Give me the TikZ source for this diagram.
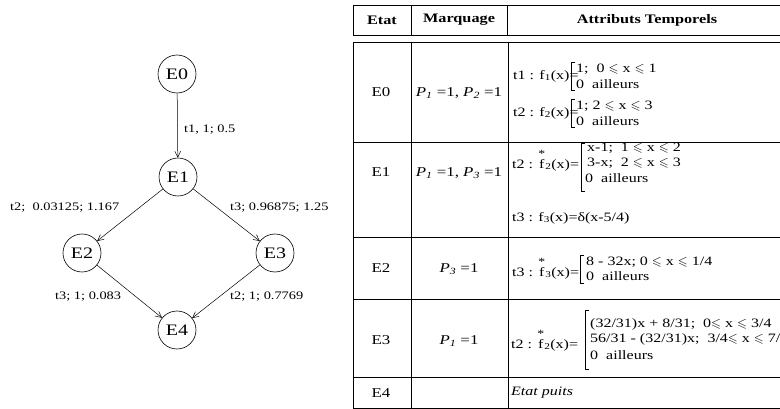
\documentclass[tikz,border=0pt]{standalone}
\usepackage{amssymb}
\usepackage{amsmath}
\usepackage{fontspec}
\setmainfont[FakeStretch=1.25]{Liberation Serif}
\usetikzlibrary{arrows.meta}
\newcommand\lsl{\ensuremath{\leqslant}}
\newcommand\fsb[1]{f\textsubscript{#1}}
\newcommand\fst[1]{\ensuremath{\overset{\raisebox{-0.9ex}{\text{\fontsize{11}{11}\selectfont *}}}{\text{f}}}\textsubscript{#1}}
\newcommand\Pp[1]{\textit{P}\textsubscript{\textit{#1}}}
\begin{document}
\begin{tikzpicture}[x=1pt,y=-1pt,
  gnode/.style={circle,draw,line width=0.6pt,minimum size=38pt,inner sep=0pt,font=\fontsize{16}{18}\selectfont},
  glabel/.style={inner sep=0pt,anchor=west,font=\fontsize{11.5}{13}\selectfont},
  garrow/.style={line width=0.5pt,-{Straight Barb[length=6pt,width=6pt]}},
  thead/.style={inner sep=0pt,font=\bfseries\fontsize{13}{15}\selectfont},
  tcell/.style={inner sep=0pt,font=\fontsize{13.5}{15}\selectfont},
  tform/.style={inner sep=0pt,anchor=west,font=\fontsize{12.8}{15}\selectfont},
  tline/.style={line width=0.7pt},
  brk/.style={line width=0.6pt}]
\useasboundingbox (0,0) rectangle (780,409);
\clip (0,0) rectangle (780,409);
% ---------- graph ----------
\node[gnode] (E0) at (177,74) {E0};
\node[gnode] (E1) at (178,177) {E1};
\node[gnode] (E2) at (82,253) {E2};
\node[gnode] (E3) at (275,253) {E3};
\node[gnode] (E4) at (177,330) {E4};
\draw[garrow] (E0) -- (E1);
\draw[garrow] (E1) -- (E2);
\draw[garrow] (E1) -- (E3);
\draw[garrow] (E2) -- (E4);
\draw[garrow] (E3) -- (E4);
\node[glabel] (l01) at (184,130) {t1, 1; 0.5};
\node[glabel] (l12) at (10,208) {t2;\ \ 0.03125; 1.167};
\node[glabel] (l13) at (230,208) {t3; 0.96875; 1.25};
\node[glabel] (l24) at (55,297) {t3; 1; 0.083};
\node[glabel] (l34) at (230,297) {t2; 1; 0.7769};
% ---------- table ----------
\draw[tline] (353,5) rectangle (800,35);
\draw[tline] (411,5) -- (411,35) (507,5) -- (507,35);
\node[thead] (hEtat) at (382,20) {Etat};
\node[thead] (hMarq) at (459,20) {Marquage};
\node[thead] (hAttr) at (647,20) {Attributs Temporels};
\draw[tline] (353,42) rectangle (800,408);
\draw[tline] (353,142) -- (800,142) (353,237) -- (800,237)
  (353,299) -- (800,299) (353,377) -- (800,377);
\draw[tline] (411,42) -- (411,408) (508,42) -- (508,408);
% Etat column
\node[tcell] (s0) at (381,92) {E0};
\node[tcell] (s1) at (381,172) {E1};
\node[tcell] (s2) at (381,268) {E2};
\node[tcell] (s3) at (381,340) {E3};
\node[tcell] (s4) at (381,393) {E4};
% Marquage column
\node[tcell] (m0) at (459,93) {\Pp{1} =1, \Pp{2} =1};
\node[tcell] (m1) at (459,173) {\Pp{1} =1, \Pp{3} =1};
\node[tcell] (m2) at (459,269) {\Pp{3} =1};
\node[tcell] (m3) at (459,341) {\Pp{1} =1};
% E0 attributes
\node[tform] (a0) at (513,76) {t1 : \fsb{1}(x)=};
\draw[brk] (575,62) -- (571,62) -- (571,90) -- (575,90);
\node[tform] (a0a) at (576,69) {1;\ \ 0 \lsl\ x \lsl\ 1};
\node[tform] (a0b) at (576,84) {0\ \ ailleurs};
\node[tform] (a1) at (513,113) {t2 : \fsb{2}(x)=};
\draw[brk] (575,99) -- (571,99) -- (571,127) -- (575,127);
\node[tform] (a1a) at (576,106) {1; 2 \lsl\ x \lsl\ 3};
\node[tform] (a1b) at (576,121) {0\ \ ailleurs};
% E1 attributes
\node[tform] (b0) at (512,160) {t2 : \fst{2}(x)=};
\draw[brk] (585,143) -- (581,143) -- (581,191) -- (585,191);
\node[tform] (b0a) at (587,148) {x-1;\ \ 1 \lsl\ x \lsl\ 2};
\node[tform] (b0b) at (587,163) {3-x;\ \ 2 \lsl\ x \lsl\ 3};
\node[tform] (b0c) at (585,178) {0\ \ ailleurs};
\node[tform] (b1) at (512,218) {t3 : \fsb{3}(x)=δ(x-5/4)};
% E2 attributes
\node[tform] (c0) at (512,268) {t3 : \fst{3}(x)=};
\draw[brk] (584,255) -- (580,255) -- (580,283) -- (584,283);
\node[tform] (c0a) at (586,262) {8 - 32x; 0 \lsl\ x \lsl\ 1/4};
\node[tform] (c0b) at (586,276) {0\ \ ailleurs};
% E3 attributes
\node[tform] (d0) at (511,340) {t2 : \fst{2}(x)=};
\draw[brk] (589,310) -- (585,310) -- (585,369) -- (589,369);
\node[tform] (d0a) at (590,324) {(32/31)x + 8/31;\ \ 0\lsl\ x \lsl\ 3/4};
\node[tform] (d0b) at (590,339) {56/31 - (32/31)x;\ \ 3/4\lsl\ x \lsl\ 7/4};
\node[tform] (d0c) at (590,355) {0\ \ ailleurs};
% E4
\node[tform] (e0) at (511,393) {\textit{Etat puits}};
\end{tikzpicture}
\end{document}
